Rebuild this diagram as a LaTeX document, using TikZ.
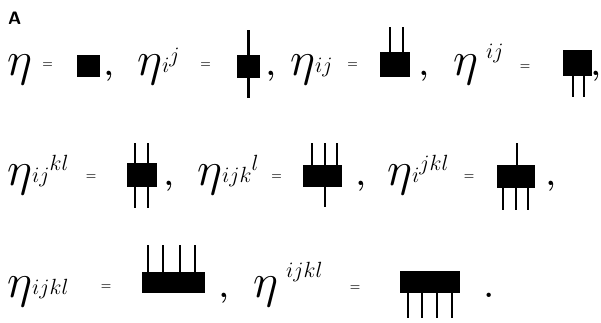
\documentclass[tikz,border=0pt]{standalone}
\usepackage{fix-cm}
\usepackage{tikz}
\usetikzlibrary{positioning, calc}
\DeclareMathSizes{48}{48}{22}{16}
% raised indices, written close to the eta
\newcommand{\upidx}[2][15pt]{\raisebox{#1}{$\scriptstyle #2$}}
\newcommand{\loidx}[1]{\raisebox{3pt}{$\scriptstyle #1$}}

\tikzset{
    tensor/.style={fill=black, inner sep=0pt, outer sep=0pt},
    leg/.style={line width=2.2pt},
    sym/.style={anchor=base west, inner sep=0pt, font=\fontsize{48}{52}\selectfont},
    eqs/.style={inner sep=0pt, font=\fontsize{12}{13}\selectfont\bfseries},
    punct/.style={anchor=base west, inner sep=0pt, font=\fontsize{30}{33}\selectfont\bfseries}
}

\begin{document}
\begin{tikzpicture}[x=1pt, y=-1pt]
\useasboundingbox (0,0) rectangle (601,323);

\node[anchor=north west, inner sep=0pt, font=\fontsize{18}{20}\selectfont\sffamily\bfseries] (lbl) at (8,12) {A};

% Row 1: eta, eta_i^j, eta_ij, eta^ij
\node[sym] (eta1) at (7,76) {$\eta$};
\node[eqs] (eq1) at (47.5,65) {=};
\node[tensor, minimum width=23pt, minimum height=22pt] (t1) at (88.5,66) {};
\node[punct] (c1) at (104,76) {,};

\node[sym] (eta2) at (137,76) {$\eta\loidx{i}\upidx[13pt]{j}$};
\node[eqs] (eq2) at (205.5,65) {=};
\node[tensor, minimum width=23pt, minimum height=23pt] (t2) at (248.5,66.5) {};
\draw[leg] (t2.north) -- (248.5,30);
\draw[leg] (t2.south) -- (248.5,98);
\node[punct] (c2) at (266,76) {,};

\node[sym] (eta3) at (290,76) {$\eta\loidx{ij}$};
\node[eqs] (eq3) at (352.5,65) {=};
\node[tensor, minimum width=30pt, minimum height=25pt] (t3) at (395,64.5) {};
\foreach \x in {390,403} \draw[leg] (\x,0 |- t3.north) -- (\x,27);
\node[punct] (c3) at (419,76) {,};

\node[sym] (eta4) at (453,76) {$\eta\,\upidx[17pt]{ij}$};
\node[eqs] (eq4) at (525,67) {=};
\node[tensor, minimum width=29pt, minimum height=26pt] (t4) at (577.5,63) {};
\foreach \x in {573,584} \draw[leg] (\x,0 |- t4.south) -- (\x,97);
\node[punct] (c4) at (591,76) {,};

% Row 2: eta_ij^kl, eta_ijk^l, eta_i^jkl
\node[sym] (eta5) at (7,185) {$\eta\loidx{ij}\upidx{kl}$};
\node[eqs] (eq5) at (91,177.5) {=};
\node[tensor, minimum width=30pt, minimum height=24pt] (t5) at (142,175) {};
\foreach \x in {135,148} {
    \draw[leg] (\x,0 |- t5.north) -- (\x,143);
    \draw[leg] (\x,0 |- t5.south) -- (\x,208);
}
\node[punct] (c5) at (164,185) {,};

\node[sym] (eta6) at (197,185) {$\eta\loidx{ijk}\upidx{l}$};
\node[eqs] (eq6) at (276.5,177.5) {=};
\node[tensor, minimum width=39pt, minimum height=22pt] (t6) at (322.5,176) {};
\foreach \x in {312,325,337} \draw[leg] (\x,0 |- t6.north) -- (\x,143);
\draw[leg] (325,0 |- t6.south) -- (325,207);
\node[punct] (c6) at (356,185) {,};

\node[sym] (eta7) at (387,185) {$\eta\loidx{i}\upidx{jkl}$};
\node[eqs] (eq7) at (469,177.5) {=};
\node[tensor, minimum width=38pt, minimum height=23pt] (t7) at (516,176.5) {};
\draw[leg] (517,0 |- t7.north) -- (517,143);
\foreach \x in {503,516,528} \draw[leg] (\x,0 |- t7.south) -- (\x,210);
\node[punct] (c7) at (546,185) {,};

% Row 3: eta_ijkl, eta^ijkl
\node[sym] (eta8) at (7,297) {$\eta\loidx{ijkl}$};
\node[eqs] (eq8) at (106,287.5) {=};
\node[tensor, minimum width=63pt, minimum height=21pt] (t8) at (173.5,282.5) {};
\foreach \x in {148,163,180,195} \draw[leg] (\x,0 |- t8.north) -- (\x,245);
\node[punct] (c8) at (219,297) {,};

\node[sym] (eta9) at (253,297) {$\eta\,\upidx[20pt]{ijkl}$};
\node[eqs] (eq9) at (355,288.5) {=};
\node[tensor, minimum width=60pt, minimum height=22pt] (t9) at (430,282) {};
\foreach \x in {408,422,437,452} \draw[leg] (\x,0 |- t9.south) -- (\x,318);
\node[punct] (p9) at (484,297) {.};

\end{tikzpicture}
\end{document}
